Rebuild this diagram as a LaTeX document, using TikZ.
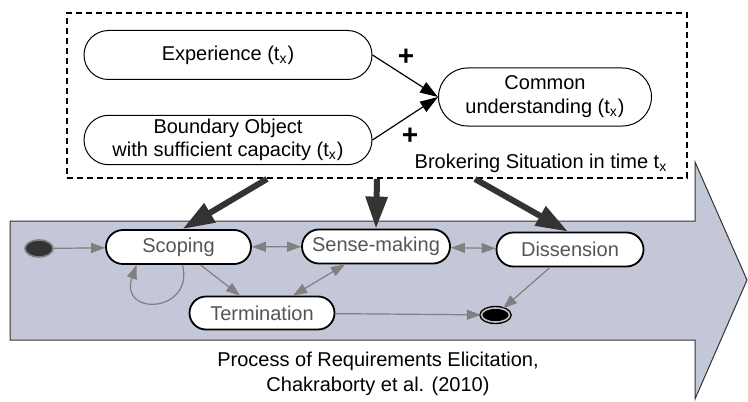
\documentclass[tikz,border=0pt]{standalone}
\usepackage{fontspec}
\setmainfont{Liberation Sans}
\usetikzlibrary{positioning}
\usetikzlibrary{shapes.misc,shapes.geometric}
\usetikzlibrary{arrows.meta}
\usetikzlibrary{calc}
\definecolor{procfill}{RGB}{195,199,216}
\definecolor{procgray}{RGB}{128,128,128}
\definecolor{proctext}{RGB}{85,85,85}
\definecolor{heavy}{RGB}{51,51,51}
\newcommand{\tsub}{t\textsubscript{x}}
\tikzset{
  sitbox/.style={rounded rectangle, draw=black, line width=0.5pt, fill=white, align=center, inner sep=2pt},
  statebox/.style={rounded rectangle, draw=black, line width=0.9pt, fill=white, text=proctext, minimum width=74.5pt, minimum height=17pt, inner sep=1pt},
  flow/.style={draw=procgray, line width=0.6pt, -{Triangle[length=7pt,width=5pt]}},
  flowboth/.style={draw=procgray, line width=0.6pt, {Triangle[length=7pt,width=5pt]}-{Triangle[length=7pt,width=5pt]}},
  push/.style={draw=heavy, line width=3pt, -{Triangle[length=16pt,width=10.5pt]}},
  adds/.style={draw=black, line width=0.6pt, -{Triangle[length=9pt,width=6pt]}},
  plussign/.style={font=\fontsize{14}{14}\bfseries\selectfont, inner sep=0pt}
}
\begin{document}
\begin{tikzpicture}[x=0.5pt,y=-0.5pt]
	\useasboundingbox (0,0) rectangle (748,401);
	% the elicitation process arrow
	\fill[procfill, draw=heavy, line width=0.5pt] (10,221) -- (695,221) -- (695,162) -- (747,280) -- (695,399) -- (695,340) -- (10,340) -- cycle;
	\node[align=center, font=\normalsize\linespread{1.05}\selectfont](procLabel) at (378,374){Process of Requirements Elicitation,\\Chakraborty et al. (2010)};

	% brokering situation
	\node[draw=black, densely dashed, line width=1pt, minimum width=310pt, minimum height=82.5pt](situation) at (377,95.5){};
	\node(situationLabel) at (541,163){Brokering Situation in time \tsub};
	\node[sitbox, minimum width=148pt, minimum height=24.5pt](experience) at (228,55){Experience (\tsub)};
	\node[sitbox, minimum width=148pt, minimum height=24.5pt, font=\normalsize\linespread{0.95}\selectfont](boundary) at (228,140){Boundary Object\\with sufficient capacity (\tsub)};
	\node[sitbox, minimum width=110.5pt, minimum height=29pt](common) at (545,97){Common\\understanding (\tsub)};
	\node[plussign](plusA) at (406,57){+};
	\node[plussign](plusB) at (410,136){+};
	\draw[adds] (experience.east) -- (common.west);
	\draw[adds] (boundary.east) -- (common.west);

	% states
	\node[ellipse, fill=heavy, draw=procgray, line width=0.8pt, minimum width=14pt, minimum height=8.5pt, inner sep=0pt](start) at (39,248.5){};
	\node[statebox](scoping) at (178.5,247){Scoping};
	\node[statebox, minimum width=76pt](sense) at (376,246.5){Sense-making};
	\node[statebox, minimum width=75.5pt](dissension) at (570,249.5){Dissension};
	\node[statebox, minimum height=16.5pt](termination) at (262,313){Termination};
	\node[ellipse, fill=black, draw=black, line width=0.7pt, double=lightgray, double distance=0.8pt, minimum width=14pt, minimum height=7pt, inner sep=0pt](finish) at (495.5,315){};

	\draw[flow] (start) -- (scoping);
	\draw[flowboth] (scoping) -- (sense);
	\draw[flowboth] (sense) -- (dissension);
	\draw[flow] ($(scoping.south)+(22,0)$) -- ($(termination.north)+(-22,0)$);
	\draw[flowboth] ($(sense.south)+(-31,0)$) -- ($(termination.north)+(31,0)$);
	\draw[flow] ($(scoping.south)+(4,0)$) .. controls +(12,48) and +(-18,52) .. ($(scoping.south)+(-42,0)$);
	\draw[flow] (termination) -- (finish);
	\draw[flow] ($(dissension.south)+(-20,0)$) -- (finish);

	\draw[push] ($(situation.south)+(-110,0)$) -- ($(scoping.north)+(4,0)$);
	\draw[push] (situation.south) -- (sense.north);
	\draw[push] ($(situation.south)+(98,0)$) -- ($(dissension.north)+(-2,0)$);
\end{tikzpicture}
\end{document}
